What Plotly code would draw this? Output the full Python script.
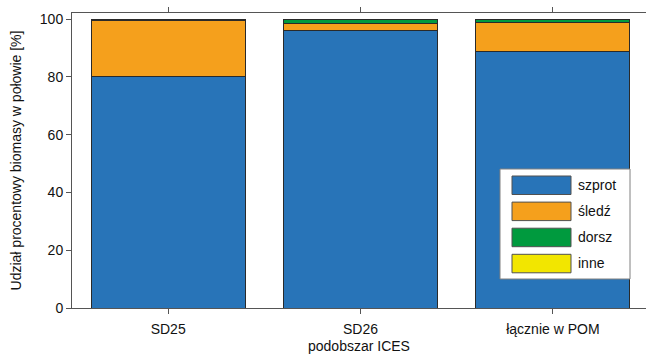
import plotly.graph_objects as go

categories = ["SD25", "SD26", "łącznie w POM"]
series_names = ["szprot", "śledź", "dorsz", "inne"]
szprot = [80.0, 96.2, 88.7]
sledz = [19.4, 2.2, 10.2]
dorsz = [0.4, 1.5, 1.0]
inne = [0.2, 0.1, 0.1]
y_ticks = [0, 20, 40, 60, 80, 100]

colors = ["#2874B8", "#F5A01C", "#009A3E", "#F2E600"]
values = [szprot, sledz, dorsz, inne]

fig = go.Figure()
for name, vals, col in zip(series_names, values, colors):
    fig.add_trace(go.Bar(
        x=categories, y=vals, name=name,
        marker=dict(color=col, line=dict(color="#2a2a2a", width=1)),
        showlegend=False,
    ))

# custom legend with large swatches (paper coordinates)
W, H = 646, 354
ml, mr, mt, mb = 72, 0, 13, 46
pw, ph = W - ml - mr, H - mt - mb

def px(x):
    return (x - ml) / pw

def py(y):
    return (H - mb - y) / ph

shapes = []
annotations = []
shapes.append(dict(type="rect", xref="paper", yref="paper",
                   x0=px(500), x1=px(630), y0=py(279), y1=py(169),
                   fillcolor="white", line=dict(color="#808080", width=1), layer="above"))
for i, (name, col) in enumerate(zip(series_names, colors)):
    top = 176 + i * 26.1
    shapes.append(dict(type="rect", xref="paper", yref="paper",
                       x0=px(512), x1=px(571), y0=py(top + 18.5), y1=py(top),
                       fillcolor=col, line=dict(color="#505050", width=1), layer="above"))
    annotations.append(dict(xref="paper", yref="paper", x=px(576), y=py(top + 9),
                            text=name, showarrow=False, xanchor="left", yanchor="middle",
                            font=dict(size=14, color="#111")))

fig.update_layout(
    width=W, height=H,
    margin=dict(l=ml, r=mr, t=mt, b=mb, autoexpand=False),
    barmode="stack", bargap=0.2,
    plot_bgcolor="white", paper_bgcolor="white",
    font=dict(family="Liberation Sans, Arial, sans-serif", size=14, color="#111"),
    shapes=shapes, annotations=annotations,
    xaxis=dict(
        range=[-0.5, 2.484], showline=True, linecolor="#555", linewidth=1,
        mirror="ticks", ticks="outside", ticklen=5, tickcolor="#555",
        ticklabelstandoff=3, automargin=False,
        title=dict(text="podobszar ICES", standoff=9, font=dict(size=14)),
        tickfont=dict(size=14),
    ),
    yaxis=dict(
        range=[0, 102.1], showline=True, linecolor="#555", linewidth=1,
        mirror="ticks", ticks="outside", ticklen=5, tickcolor="#555",
        tickvals=y_ticks, showgrid=False, zeroline=False, automargin=False,
        title=dict(text="Udział procentowy biomasy w połowie [%]", standoff=14, font=dict(size=14)),
        tickfont=dict(size=14),
    ),
)

fig.write_html("out.html", config={"displayModeBar": False},
               post_script="document.body.style.margin='0';document.body.style.overflow='hidden';")
